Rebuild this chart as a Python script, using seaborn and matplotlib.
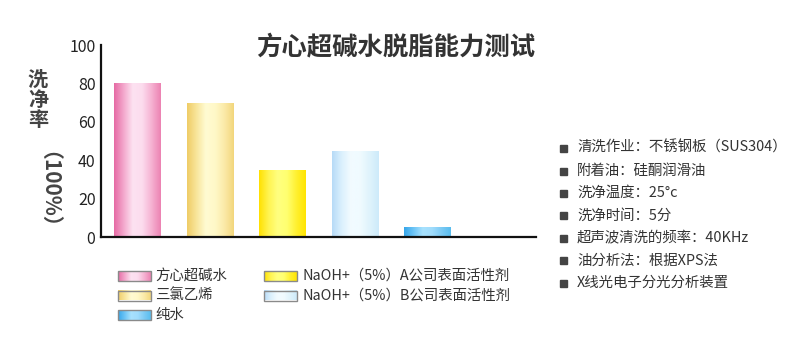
import numpy as np
import pandas as pd
import matplotlib
matplotlib.use("Agg")
import matplotlib.pyplot as plt
from matplotlib.colors import LinearSegmentedColormap
from matplotlib.patches import Rectangle
import seaborn as sns

# ---------------- data ----------------
categories = ["方心超碱水", "三氯乙烯", "NaOH+（5%）A公司表面活性剂",
              "NaOH+（5%）B公司表面活性剂", "纯水"]
values = [80, 70, 35, 45, 5]
yticks = [0, 20, 40, 60, 80, 100]
title = "方心超碱水脱脂能力测试"
ylabel_upright = "洗净率"
ylabel_rot = "（100%）"
notes = ["清洗作业：不锈钢板（SUS304）", "附着油：硅酮润滑油", "洗净温度：25°c",
         "洗净时间：5分", "超声波清洗的频率：40KHz", "油分析法：根据XPS法",
         "X线光电子分光分析装置"]

grads = [
    ["#e66aa4", "#f3a6cb", "#fde2f1", "#fcdcee", "#f6b2d2", "#ec82b2"],
    ["#efcc66", "#f8e59a", "#fffbd2", "#fff8c8", "#fbeaa8", "#f2d67c"],
    ["#ffe000", "#fff450", "#ffff80", "#ffff70", "#fff030", "#ffe400"],
    ["#b6daf7", "#daf0fd", "#f2fbff", "#f0fbff", "#dff3fc", "#cdeafa"],
    ["#36a6ea", "#6cc4f6", "#a8e2fe", "#a0dcfc", "#7ccaf4", "#58bcee"],
]

sns.set_style("white")
plt.rcParams["font.family"] = ["Noto Sans CJK SC", "DejaVu Sans"]

W, H = 790, 340
fig = plt.figure(figsize=(W / 100, H / 100), dpi=100)

# main axes
x0, x1, ytop, ybot = 101, 536, 45, 237
ax = fig.add_axes([x0 / W, (H - ybot) / H, (x1 - x0) / W, (ybot - ytop) / H])
df = pd.DataFrame({"cat": categories, "val": values})
sns.barplot(data=df, x="cat", y="val", order=categories, width=0.635,
            color="white", saturation=1, ax=ax, zorder=2)

for patch, stops in zip(ax.patches, grads):
    px, py = patch.get_x(), patch.get_y()
    pw, ph = patch.get_width(), patch.get_height()
    cmap = LinearSegmentedColormap.from_list("g", stops)
    im = ax.imshow(np.linspace(0, 1, 256)[None, :], cmap=cmap,
                   extent=[px, px + pw, py, py + ph], aspect="auto",
                   interpolation="bilinear", zorder=2)
    im.set_clip_path(patch)
    patch.set_facecolor("none")
    patch.set_edgecolor("none")

ax.set_xlim(-0.5, 5.5)
ax.set_ylim(0, 100)
ax.set_xlabel("")
ax.set_ylabel("")
ax.set_xticks([i + 0.5 for i in range(6)], labels=[""] * 6)
ax.set_yticks(yticks, labels=[str(v) for v in yticks])
for s in ["top", "right"]:
    ax.spines[s].set_visible(False)
for s in ["left", "bottom"]:
    ax.spines[s].set_color("#111111")
    ax.spines[s].set_linewidth(1.6)
ax.tick_params(axis="y", direction="in", length=7, width=1.5, color="#111111",
               labelsize=11.5, labelcolor="#222222", pad=4)
ax.tick_params(axis="x", direction="in", length=6, width=1.5, color="#111111")
ax.xaxis.get_major_ticks()[-1].tick1line.set_color("#2a2aa8")

# overlay in pixel coordinates
ov = fig.add_axes([0, 0, 1, 1])
ov.set_xlim(0, W)
ov.set_ylim(H, 0)
ov.axis("off")

ov.text(396, 47, title, ha="center", va="center", fontsize=18.3,
        fontweight="bold", color="#333333")

for i, ch in enumerate(ylabel_upright):
    ov.text(38, 79 + i * 20, ch, ha="center", va="center", fontsize=14.5,
            fontweight="bold", color="#444444")
ov.text(38, 200, ylabel_rot, ha="center", va="center", rotation=-90,
        fontsize=15, fontweight="bold", color="#444444")

# legend
leg_rows = [276, 295.5, 315]
slots = {0: (0, 0), 2: (1, 0), 1: (0, 1), 3: (1, 1), 4: (0, 2)}
for i, cat in enumerate(categories):
    col, row = slots[i]
    lx = 118 if col == 0 else 264
    tx = 155 if col == 0 else 303
    ly = leg_rows[row]
    cmap = LinearSegmentedColormap.from_list("g", grads[i])
    ov.imshow(np.linspace(0, 1, 256)[None, :], cmap=cmap,
              extent=[lx, lx + 33, ly + 5, ly - 5], aspect="auto",
              interpolation="bilinear", zorder=3)
    ov.add_patch(Rectangle((lx, ly - 5), 33, 10, fill=False,
                           edgecolor="#8a8a8a", linewidth=1, zorder=4))
    ov.text(tx, ly, cat, ha="left", va="center", fontsize=10.4, color="#333333")
ov.set_xlim(0, W)
ov.set_ylim(H, 0)

# notes
note_rows = [148, 171, 193, 215.5, 238, 260.5, 283]
for y, t in zip(note_rows, notes):
    ov.add_patch(Rectangle((560, y - 3.5), 7, 7, color="#444444", zorder=3))
    ov.text(577, y, t, ha="left", va="center", fontsize=10.4, color="#333333")

fig.savefig("out.png", dpi=100)
